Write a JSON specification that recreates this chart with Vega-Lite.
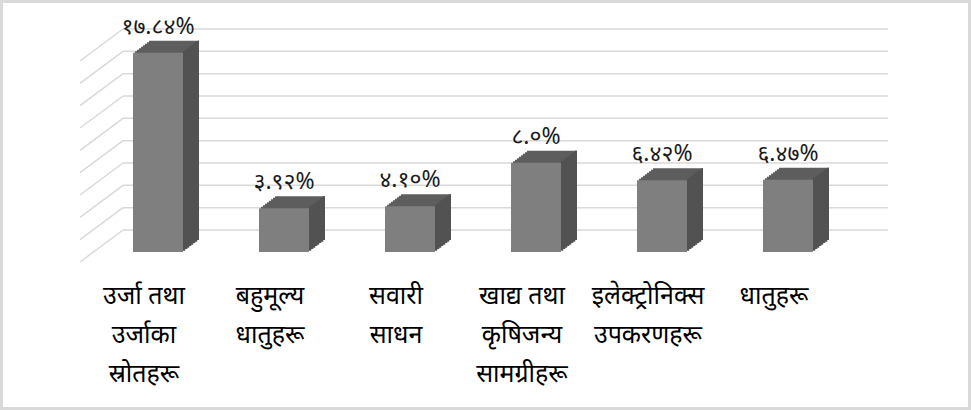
{
  "$schema": "https://vega.github.io/schema/vega-lite/v6.json",
  "autosize": "none",
  "padding": {"left": 80, "top": 51, "right": 83, "bottom": 158},
  "width": 808,
  "height": 201,
  "background": "#ffffff",
  "config": {"view": {"stroke": null}, "font": "Noto Sans"},
  "datasets": {
    "bars": [
      {"cat": "उर्जा तथा|उर्जाका|स्रोतहरू", "value": 17.84, "label": "१७.८४%"},
      {"cat": "बहुमूल्य|धातुहरू", "value": 3.92, "label": "३.९२%"},
      {"cat": "सवारी|साधन", "value": 4.10, "label": "४.१०%"},
      {"cat": "खाद्य तथा|कृषिजन्य|सामग्रीहरू", "value": 8.0, "label": "८.०%"},
      {"cat": "इलेक्ट्रोनिक्स|उपकरणहरू", "value": 6.42, "label": "६.४२%"},
      {"cat": "धातुहरू", "value": 6.47, "label": "६.४७%"}
    ],
    "grid": [{"v": 0}, {"v": 2}, {"v": 4}, {"v": 6}, {"v": 8}, {"v": 10}, {"v": 12}, {"v": 14}, {"v": 16}, {"v": 18}]
  },
  "layer": [
    {
      "data": {"values": [{}]},
      "mark": {"type": "rect", "fill": null, "stroke": "#d9d9d9", "strokeWidth": 3},
      "encoding": {"x": {"value": -78.5}, "x2": {"value": 889.5}, "y": {"value": -49.5}, "y2": {"value": 357.5}}
    },
    {
      "data": {"name": "grid"},
      "mark": {"type": "rule", "color": "#d9d9d9", "strokeWidth": 1.5, "yOffset": 10, "y2Offset": -22},
      "encoding": {
        "y": {"field": "v", "type": "quantitative", "scale": {"domain": [0, 18], "nice": false, "zero": true}, "axis": null},
        "y2": {"field": "v"},
        "x": {"value": 0},
        "x2": {"value": 43}
      }
    },
    {
      "data": {"name": "grid"},
      "mark": {"type": "rule", "color": "#d9d9d9", "strokeWidth": 1.5, "yOffset": -22},
      "encoding": {
        "y": {"field": "v", "type": "quantitative"},
        "x": {"value": 43},
        "x2": {"value": 808}
      }
    },
    {
      "data": {"name": "bars"},
      "layer": [
        {"mark": {"type": "bar", "color": "#5e5e5e", "xOffset": 16, "yOffset": -12, "y2Offset": -12}, "encoding": {}},
        {"mark": {"type": "bar", "color": "#5e5e5e", "xOffset": 14, "yOffset": -10.5, "y2Offset": -10.5}, "encoding": {}},
        {"mark": {"type": "bar", "color": "#5e5e5e", "xOffset": 12, "yOffset": -9, "y2Offset": -9}, "encoding": {}},
        {"mark": {"type": "bar", "color": "#5e5e5e", "xOffset": 10, "yOffset": -7.5, "y2Offset": -7.5}, "encoding": {}},
        {"mark": {"type": "bar", "color": "#5e5e5e", "xOffset": 8, "yOffset": -6, "y2Offset": -6}, "encoding": {}},
        {"mark": {"type": "bar", "color": "#5e5e5e", "xOffset": 6, "yOffset": -4.5, "y2Offset": -4.5}, "encoding": {}},
        {"mark": {"type": "bar", "color": "#5e5e5e", "xOffset": 4, "yOffset": -3, "y2Offset": -3}, "encoding": {}},
        {"mark": {"type": "bar", "color": "#5e5e5e", "xOffset": 2, "yOffset": -1.5, "y2Offset": -1.5}, "encoding": {}},
        {"mark": {"type": "bar", "color": "#525252", "width": 2.6, "xOffset": 26, "yOffset": -1.5, "y2Offset": -1.5}, "encoding": {}},
        {"mark": {"type": "bar", "color": "#525252", "width": 2.6, "xOffset": 28, "yOffset": -3, "y2Offset": -3}, "encoding": {}},
        {"mark": {"type": "bar", "color": "#525252", "width": 2.6, "xOffset": 30, "yOffset": -4.5, "y2Offset": -4.5}, "encoding": {}},
        {"mark": {"type": "bar", "color": "#525252", "width": 2.6, "xOffset": 32, "yOffset": -6, "y2Offset": -6}, "encoding": {}},
        {"mark": {"type": "bar", "color": "#525252", "width": 2.6, "xOffset": 34, "yOffset": -7.5, "y2Offset": -7.5}, "encoding": {}},
        {"mark": {"type": "bar", "color": "#525252", "width": 2.6, "xOffset": 36, "yOffset": -9, "y2Offset": -9}, "encoding": {}},
        {"mark": {"type": "bar", "color": "#525252", "width": 2.6, "xOffset": 38, "yOffset": -10.5, "y2Offset": -10.5}, "encoding": {}},
        {"mark": {"type": "bar", "color": "#525252", "width": 2, "xOffset": 40, "yOffset": -12, "y2Offset": -12}, "encoding": {}},
        {"mark": {"type": "bar", "color": "#7f7f7f"}, "encoding": {}},
        {
          "mark": {"type": "text", "fontSize": 23, "dy": -19, "baseline": "alphabetic", "color": "#1a1a1a"},
          "encoding": {"text": {"field": "label"}}
        }
      ],
      "encoding": {
        "x": {
          "field": "cat", "type": "nominal", "sort": null, "title": null,
          "scale": {"paddingInner": 0.6032, "paddingOuter": 0.508, "align": 0.414},
          "axis": {
            "labelExpr": "split(datum.label, '|')",
            "labelAngle": 0, "domain": false, "ticks": false,
            "labelFontSize": 25, "labelColor": "#000000", "labelLineHeight": 39,
            "labelPadding": 31, "labelOffset": -14, "labelBaseline": "top", "labelLimit": 0
          }
        },
        "y": {"field": "value", "type": "quantitative"}
      }
    }
  ]
}
